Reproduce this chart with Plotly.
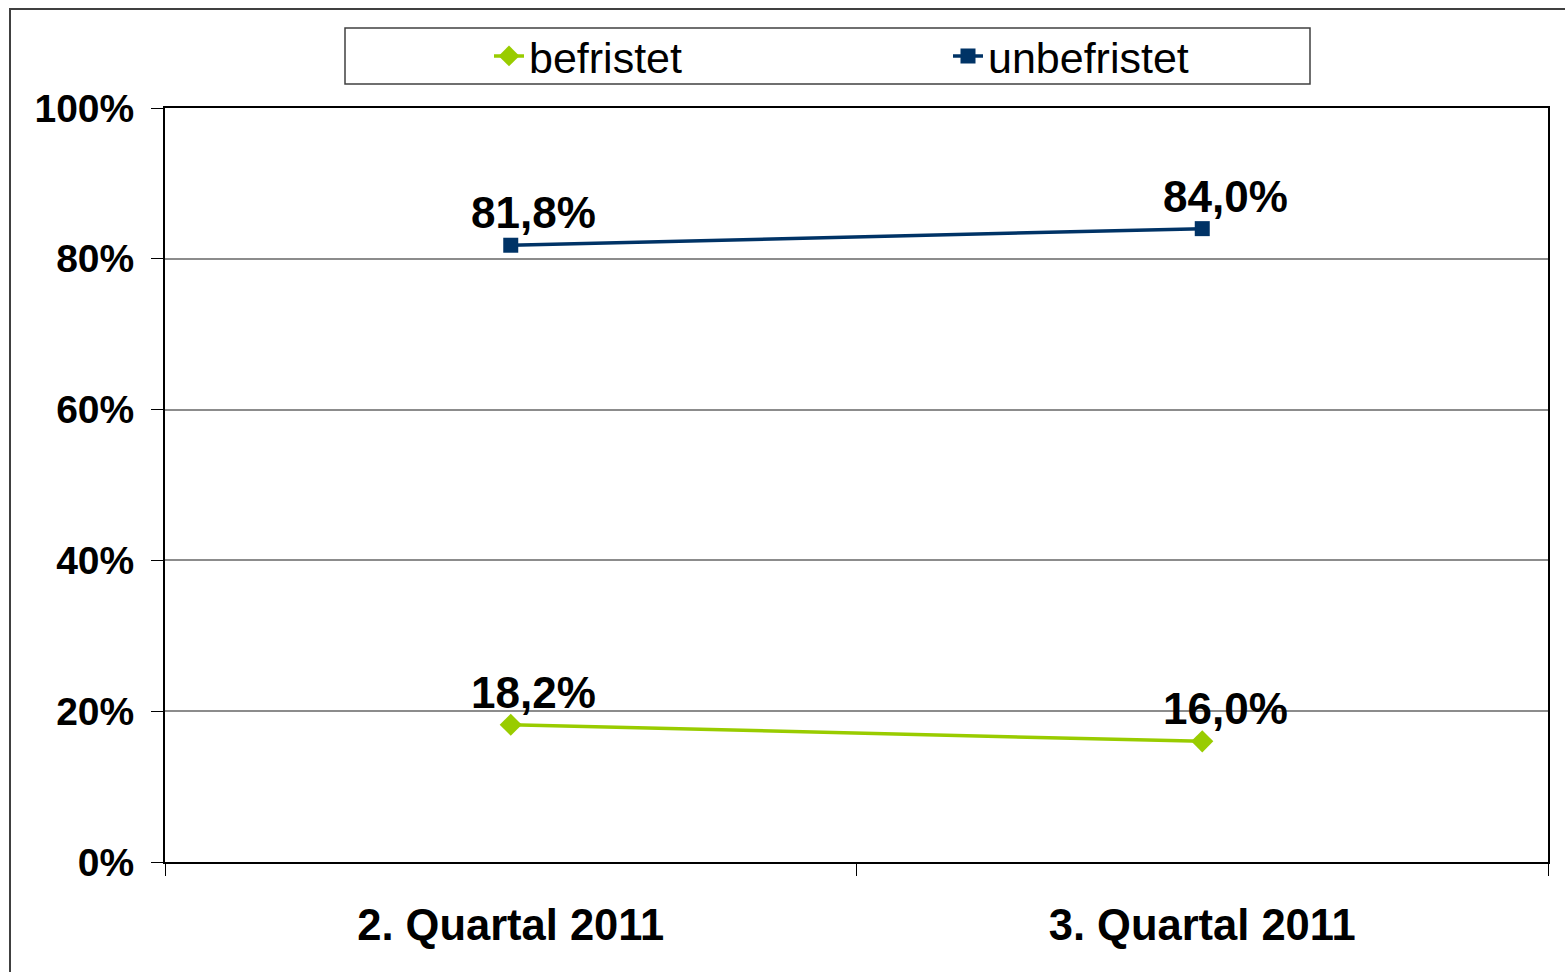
import plotly.graph_objects as go

quartale = ["2. Quartal 2011", "3. Quartal 2011"]
befristet = [18.2, 16.0]
unbefristet = [81.8, 84.0]
y_ticks = [0, 20, 40, 60, 80, 100]
y_tick_labels = ["0%", "20%", "40%", "60%", "80%", "100%"]

GREEN = "#99CC00"
NAVY = "#003366"
FONT = "Liberation Sans, Arial, sans-serif"

fig = go.Figure()
fig.add_trace(go.Scatter(
    x=quartale, y=befristet, name="befristet", mode="lines+markers",
    line=dict(color=GREEN, width=3.5),
    marker=dict(symbol="diamond", size=17, color=GREEN),
))
fig.add_trace(go.Scatter(
    x=quartale, y=unbefristet, name="unbefristet", mode="lines+markers",
    line=dict(color=NAVY, width=3.5),
    marker=dict(symbol="square", size=15, color=NAVY),
))

# data labels, slightly right of and above each point
for series in (befristet, unbefristet):
    for q, v in zip(quartale, series):
        fig.add_annotation(
            x=q, y=v, xref="x", yref="y",
            text=f"{v:.1f}%".replace(".", ","),
            showarrow=False, xanchor="center", yanchor="bottom",
            xshift=23, yshift=6,
            font=dict(family=FONT, size=44, color="black", weight="bold"),
        )

# legend box and outer chart frame
fig.add_shape(type="rect", xref="paper", yref="paper",
              x0=(345 - 165) / 1383, x1=(1310 - 165) / 1383,
              y0=(862 - 84) / 754, y1=(862 - 28) / 754,
              line=dict(color="#404040", width=1.5), fillcolor="white", layer="below")
fig.add_shape(type="rect", xref="paper", yref="paper",
              x0=(10 - 165) / 1383, x1=1.1,
              y0=-0.3, y1=(862 - 9) / 754,
              line=dict(color="#404040", width=2))

fig.update_layout(
    width=1565, height=972,
    margin=dict(l=165, r=17, t=108, b=110),
    paper_bgcolor="white", plot_bgcolor="white",
    font=dict(family=FONT, color="black"),
    showlegend=True,
    legend=dict(
        orientation="h", x=(489 - 165) / 1383, y=(862 - 56) / 754,
        xanchor="left", yanchor="middle",
        entrywidth=414, entrywidthmode="pixels",
        bgcolor="rgba(0,0,0,0)", borderwidth=0,
        font=dict(family=FONT, size=43, color="black"),
    ),
    xaxis=dict(
        type="category", range=[-0.5, 1.5],
        showgrid=False, showline=True, linecolor="black", linewidth=2, mirror=True,
        ticks="outside", tickson="boundaries", ticklen=12, tickcolor="black", tickwidth=1,
        ticklabelstandoff=24,
        tickfont=dict(family=FONT, size=43.5, color="black", weight="bold"),
    ),
    yaxis=dict(
        range=[0, 100], tickvals=y_ticks, ticktext=y_tick_labels,
        showgrid=True, gridcolor="#8C8C8C", gridwidth=1.5,
        showline=True, linecolor="black", linewidth=2, mirror=True,
        ticks="outside", ticklen=12, tickcolor="black", tickwidth=1,
        ticklabelstandoff=9, zeroline=False,
        tickfont=dict(family=FONT, size=39, color="black", weight="bold"),
    ),
)

fig.write_html("out.html", config={"displayModeBar": False},
               post_script="document.body.style.margin='0';")
